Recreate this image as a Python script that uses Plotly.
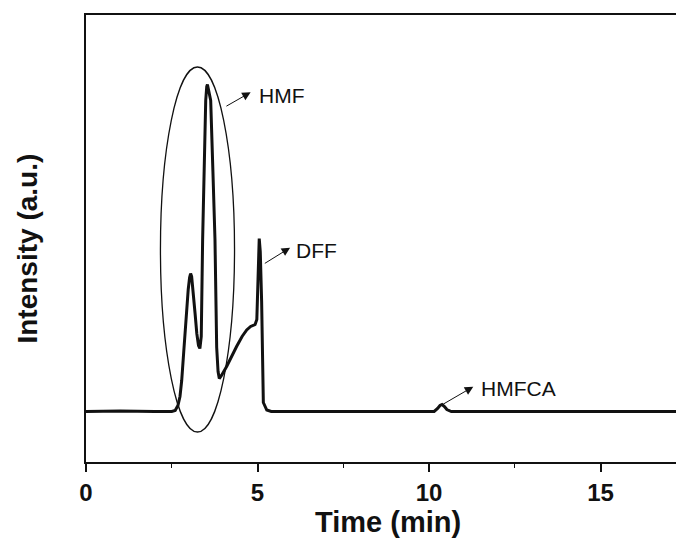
import plotly.graph_objects as go

# Chromatogram: retention time (min) vs detector intensity (a.u.)
time_min = [0.0, 1.0, 2.0, 2.50, 2.60, 2.68, 2.74, 2.79, 2.85, 2.89, 2.94, 2.98,
            3.02, 3.05, 3.08, 3.12, 3.18, 3.23, 3.28, 3.32, 3.36, 3.40, 3.45,
            3.49, 3.52, 3.54, 3.57, 3.635, 3.70, 3.76, 3.81, 3.85, 3.886, 3.95,
            4.10, 4.25, 4.39, 4.55, 4.685, 4.80, 4.93, 4.98, 5.02, 5.05, 5.08,
            5.12, 5.17, 5.27, 5.40, 8.0, 10.15, 10.25, 10.32, 10.38, 10.45,
            10.52, 10.65, 14.0, 17.3]
intensity = [0, 0.5, 0, 0, 1, 6, 15, 31, 60, 82, 105, 122,
             134, 138, 135, 122, 98, 78, 66, 63, 75, 172, 265,
             311, 325, 327, 322, 311, 240, 172, 64, 40, 33, 36,
             45, 56, 65, 75, 81.5, 85, 87, 92, 140, 173, 160,
             110, 9, 1.5, 0, 0, 0, 3, 6, 7, 5,
             2, 0, 0, 0]

x_ticks = [0, 5, 10, 15]
x_tick_labels = ["0", "5", "10", "15"]

# Peak labels: (text, arrow tail, arrow head, text anchor) in data units
peak_names = ["HMF", "DFF", "HMFCA"]
arrow_tail = [(4.05, 304.5), (5.17, 147.2), (10.37, 6.5)]
arrow_head = [(4.80, 319.2), (5.95, 163.8), (11.29, 24.8)]
label_pos = [(4.99, 316.5), (6.06, 161.5), (11.46, 23.2)]

# Ellipse bounding box around the HMF region
ellipse_box = dict(x0=2.17, x1=4.33, y0=-20.5, y1=344.5)

FONT = "Liberation Sans, Arial, sans-serif"
INK = "#111111"

fig = go.Figure()
fig.add_trace(go.Scatter(
    x=time_min, y=intensity, mode="lines",
    line=dict(color=INK, width=3), showlegend=False, hoverinfo="skip",
))

fig.add_shape(type="circle", xref="x", yref="y", layer="above",
              line=dict(color=INK, width=1.3), **ellipse_box)

for name, tail, head, pos in zip(peak_names, arrow_tail, arrow_head, label_pos):
    fig.add_annotation(x=head[0], y=head[1], ax=tail[0], ay=tail[1],
                       xref="x", yref="y", axref="x", ayref="y",
                       text="", showarrow=True, arrowhead=2, arrowsize=1.7,
                       arrowwidth=1, arrowcolor=INK, standoff=0)
    fig.add_annotation(x=pos[0], y=pos[1], xref="x", yref="y", text=name,
                       showarrow=False, xanchor="left", yanchor="middle",
                       font=dict(family=FONT, size=21, color=INK))

# Axis titles
fig.add_annotation(x=0.512, y=-0.1353, xref="paper", yref="paper",
                   text="<b>Time (min)</b>", showarrow=False,
                   xanchor="center", yanchor="middle",
                   font=dict(family=FONT, size=29, color=INK))
fig.add_annotation(x=-0.0983, y=0.4776, xref="paper", yref="paper",
                   text="<b>Intensity (a.u.)</b>", showarrow=False,
                   textangle=-90, xanchor="center", yanchor="middle",
                   font=dict(family=FONT, size=28, color=INK))

fig.update_layout(
    width=676, height=542,
    margin=dict(l=86, r=0, t=15, b=80),
    paper_bgcolor="white", plot_bgcolor="white",
    font=dict(family=FONT, color=INK),
)
fig.update_xaxes(
    range=[0, 17.2], tickvals=x_ticks, ticktext=x_tick_labels,
    ticks="outside", ticklen=8, tickwidth=1.6, tickcolor=INK,
    minor=dict(dtick=2.5, tick0=0, ticks="outside", ticklen=4,
               tickwidth=1.4, tickcolor=INK, showgrid=False),
    tickfont=dict(family=FONT, size=24, color=INK, weight="bold"),
    showline=True, linecolor=INK, linewidth=1.8, mirror=True,
    showgrid=False, zeroline=False,
)
fig.update_yaxes(
    range=[-50.5, 396.5], showticklabels=False, ticks="",
    showline=True, linecolor=INK, linewidth=1.8, mirror=False,
    showgrid=False, zeroline=False,
)

fig.write_html("out.html", config={"displayModeBar": False})
